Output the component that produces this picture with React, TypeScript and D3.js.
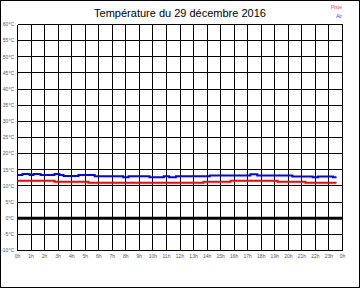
import React from "react";
import * as d3 from "d3";

const title = "Température du 29 décembre 2016";
const hourTicks = d3.range(0, 25);
const hourLabels = hourTicks.map((h) => `${h % 24}h`);
const tempTicks = d3.range(-10, 61, 5);

const airTimes = [0, 0.37, 0.9, 1.18, 1.7, 2.73, 3.1, 3.4, 4.5, 5.7, 7.8, 8.2, 9.75, 10.8, 11.2, 11.7, 14.2, 17.2, 17.7, 20.3, 21.8, 22.2, 23.3, 23.56];
const airVals = [13.4, 13.7, 13.4, 13.7, 13.4, 13.7, 13.4, 13.1, 13.4, 13.0, 12.7, 13.0, 12.7, 13.0, 12.7, 13.0, 13.2, 13.6, 13.2, 12.95, 12.65, 12.95, 12.65, 12.65];

const pisteTimes = [0, 2.73, 5.24, 13.74, 15.73, 19.2, 21.27, 23.56];
const pisteVals = [11.6, 11.3, 11.0, 11.3, 11.6, 11.3, 11.0, 11.0];

export default function App() {
  const W = 360, H = 288;
  const x = d3.scaleLinear().domain([0, 24]).range([17.5, 342.5]);
  const y = d3.scaleLinear().domain([-10, 60]).range([250.5, 24.5]);
  const line = d3
    .line<[number, number]>()
    .x((d) => x(d[0]))
    .y((d) => y(d[1]))
    .curve(d3.curveStepAfter);
  const air: [number, number][] = airTimes.map((t, i) => [t, airVals[i]]);
  const piste: [number, number][] = pisteTimes.map((t, i) => [t, pisteVals[i]]);
  const font = "'Liberation Sans', Arial, sans-serif";
  const rnd = (v: number) => Math.round(v - 0.5) + 0.5;
  return (
    <svg width={W} height={H} style={{ position: "absolute", left: 0, top: 0, background: "#fff" }} fontFamily={font}>
      <rect x={0.5} y={0.5} width={W - 1} height={H - 1} fill="#fff" stroke="#000" strokeWidth={1} />
      <text x={180} y={17} textAnchor="middle" fontSize={11} fill="#000">{title}</text>
      <text x={342} y={9} textAnchor="end" fontSize={5} fill="#ff4444">Piste</text>
      <text x={342} y={17.5} textAnchor="end" fontSize={5} fill="#4444ff">Air</text>
      <g shapeRendering="crispEdges">
        {hourTicks.map((h) => (
          <line key={"v" + h} x1={rnd(x(h))} x2={rnd(x(h))} y1={y(60)} y2={y(-10)} stroke="#000" strokeWidth={1} />
        ))}
        {tempTicks.map((t) => (
          <line key={"h" + t} x1={x(0)} x2={x(24)} y1={rnd(y(t))} y2={rnd(y(t))} stroke="#000" strokeWidth={1} />
        ))}
      </g>
      {tempTicks.map((t) => (
        <text key={"yl" + t} x={14} y={y(t) + 1.8} textAnchor="end" fontSize={5} fill="#555">{`${t}°C`}</text>
      ))}
      {hourTicks.map((h, i) => (
        <text key={"xl" + h} x={x(h)} y={258} textAnchor="middle" fontSize={5} fill="#555">{hourLabels[i]}</text>
      ))}
      <line x1={x(0)} x2={x(24)} y1={y(0)} y2={y(0)} stroke="#000" strokeWidth={3} />
      <path d={line(piste) || ""} fill="none" stroke="#ff0000" strokeWidth={2} />
      <path d={line(air) || ""} fill="none" stroke="#0000ff" strokeWidth={2} />
    </svg>
  );
}
